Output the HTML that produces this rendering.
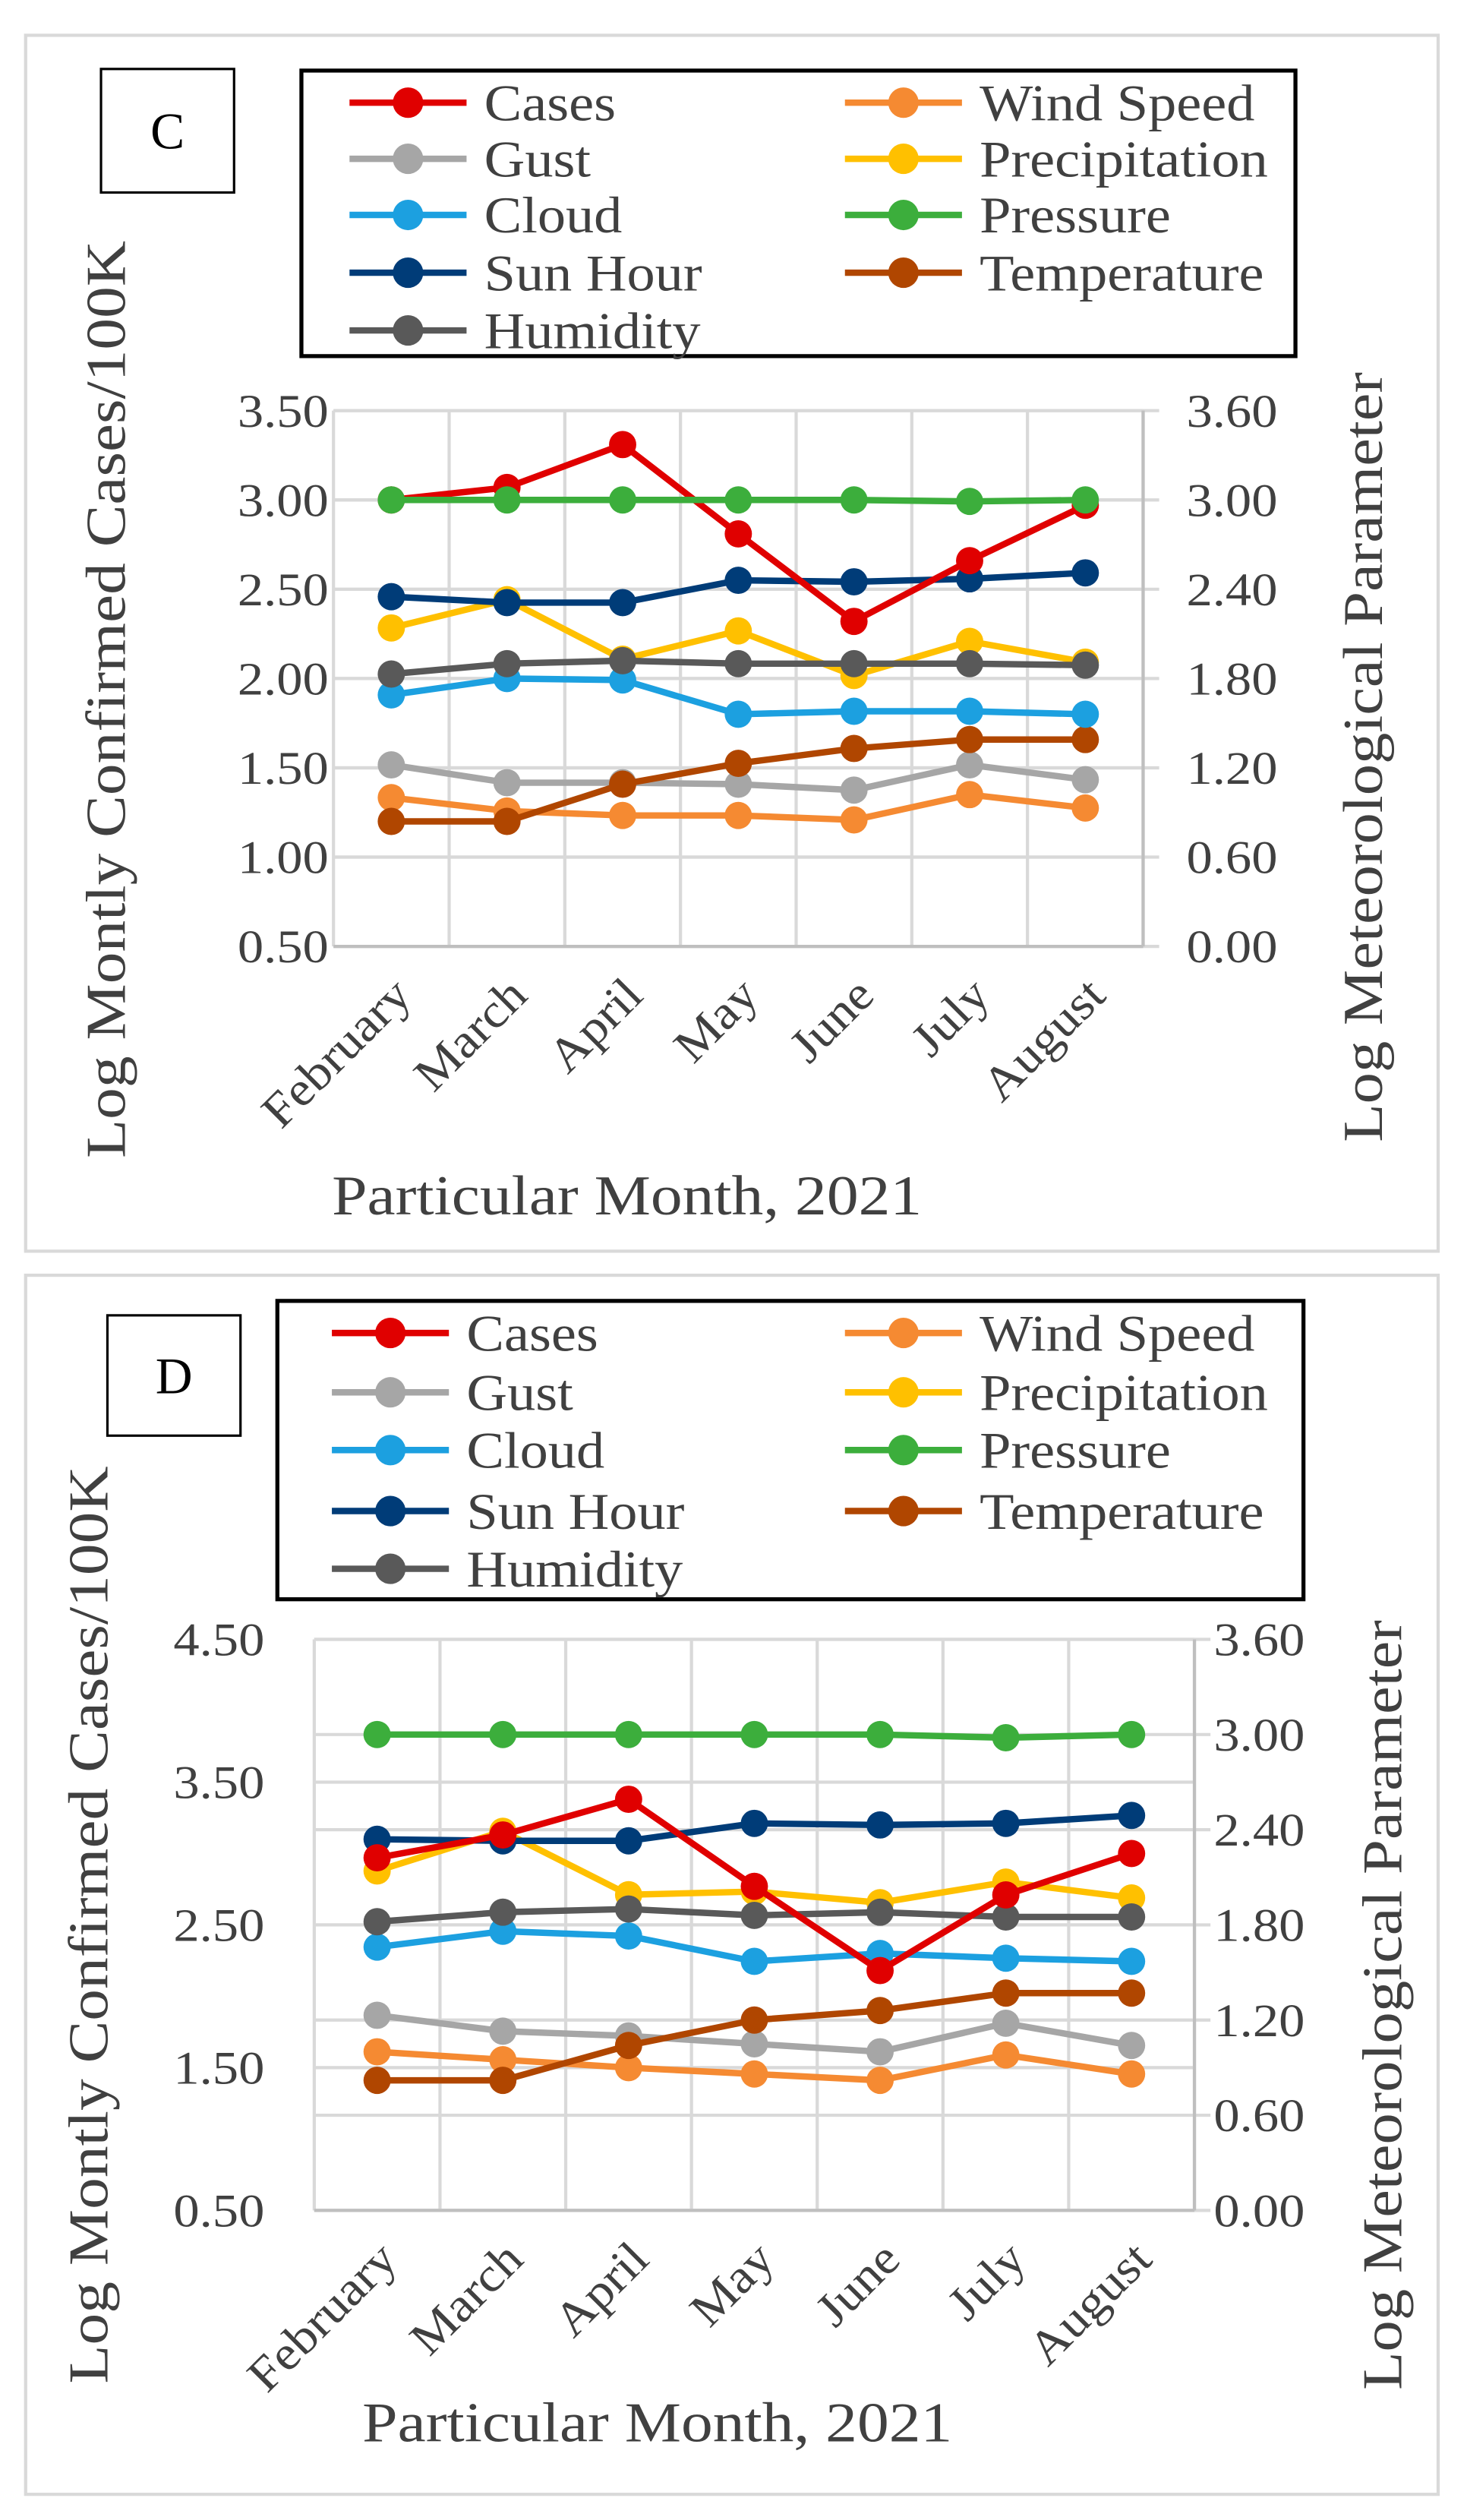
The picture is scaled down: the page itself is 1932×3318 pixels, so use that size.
<!DOCTYPE html>
<html><head><meta charset="utf-8"><style>
html,body{margin:0;padding:0;background:#fff}
svg{display:block}
text{font-family:"Liberation Serif",serif;fill:#404040}
</style></head><body>
<svg id="s" width="1932" height="3318" viewBox="0 0 915 1571" preserveAspectRatio="none" xmlns="http://www.w3.org/2000/svg"></svg>
<script>
const months = ["February","March","April","May","June","July","August"];
const seriesNames = ["Cases","Wind Speed","Gust","Precipitation","Cloud","Pressure","Sun Hour","Temperature","Humidity"];
const seriesColors = {"Cases":"#e00000","Wind Speed":"#f58a32","Gust":"#a6a6a6","Precipitation":"#ffc000","Cloud":"#1ca0e0","Pressure":"#3cae3c","Sun Hour":"#003c78","Temperature":"#b04600","Humidity":"#595959"};
// Chart C values
const cCases = [3.00,3.07,3.31,2.81,2.32,2.66,2.97];
const cWind = [1.00,0.91,0.88,0.88,0.85,1.02,0.93];
const cGust = [1.22,1.10,1.10,1.09,1.05,1.22,1.12];
const cPrecip = [2.14,2.33,1.93,2.12,1.82,2.05,1.91];
const cCloud = [1.69,1.80,1.79,1.56,1.58,1.58,1.56];
const cPressure = [3.00,3.00,3.00,3.00,3.00,2.99,3.00];
const cSun = [2.35,2.31,2.31,2.46,2.45,2.47,2.51];
const cTemp = [0.84,0.84,1.09,1.23,1.33,1.39,1.39];
const cHumid = [1.83,1.90,1.92,1.90,1.90,1.90,1.89];
// Chart D values
const dCases = [2.97,3.13,3.38,2.77,2.18,2.71,3.00];
const dWind = [1.00,0.95,0.90,0.86,0.82,0.98,0.86];
const dGust = [1.23,1.13,1.10,1.05,1.00,1.18,1.04];
const dPrecip = [2.14,2.39,1.99,2.01,1.94,2.07,1.97];
const dCloud = [1.66,1.76,1.73,1.57,1.62,1.59,1.57];
const dPressure = [3.00,3.00,3.00,3.00,3.00,2.98,3.00];
const dSun = [2.34,2.33,2.33,2.44,2.43,2.44,2.49];
const dTemp = [0.82,0.82,1.04,1.20,1.26,1.37,1.37];
const dHumid = [1.82,1.88,1.90,1.86,1.88,1.85,1.85];
const cLeftTicks = ["0.50","1.00","1.50","2.00","2.50","3.00","3.50"];
const dLeftTicks = ["0.50","1.50","2.50","3.50","4.50"];
const rightTicks = ["0.00","0.60","1.20","1.80","2.40","3.00","3.60"];

const NS="http://www.w3.org/2000/svg", svg=document.getElementById('s');
function mk(tag,attrs,parent,txt){const e=document.createElementNS(NS,tag);for(const k in attrs)e.setAttribute(k,attrs[k]);if(txt!==undefined)e.textContent=txt;(parent||svg).appendChild(e);return e;}
function stretch(e,k){const w=e.getComputedTextLength();e.setAttribute('textLength',w*k);e.setAttribute('lengthAdjust','spacingAndGlyphs');}

function chart(cfg){
  const g=mk('g',{});
  
  
  const fr=mk('rect',{x:16,y:cfg.fy,width:881,height:cfg.fh,fill:'none',stroke:'#d9d9d9','stroke-width':2},g);
  
  
  const lb=mk('rect',{x:cfg.lbx,y:cfg.lby,width:83,height:cfg.lbh,fill:'#fff',stroke:'#000','stroke-width':1.5},g);
  
  
  const lt=mk('text',{x:cfg.lbx+41.5,y:cfg.lby+cfg.lbh/2+11,'font-size':32,'text-anchor':'middle',style:'fill:#000'},g,cfg.id);
  
  
  const {x0,x1,y0,y1}=cfg;
  const lmin=cfg.lmin,lmax=cfg.lmax;
  const yL=v=>y1-(v-lmin)/(lmax-lmin)*(y1-y0);
  const yR=v=>y1-v/3.6*(y1-y0);
  const cw=(x1-x0)/months.length;
  const xC=i=>x0+cw*(i+0.5);
  const grid=mk('g',{},g);
  
  
  for(let i=0;i<=months.length;i++){mk('line',{x1:x0+cw*i,x2:x0+cw*i,y1:y0,y2:y1,stroke:'#d9d9d9','stroke-width':2},grid);}
  cfg.leftTicks.forEach(t=>{const y=yL(parseFloat(t));mk('line',{x1:x0,x2:x1,y1:y,y2:y,stroke:'#d9d9d9','stroke-width':2},grid);
    const e=mk('text',{x:x0-cfg.lgap,y:y+10,'font-size':29,'text-anchor':'end'},g,t);
    
    
    stretch(e,1.12);});
  rightTicks.forEach(t=>{const y=yR(parseFloat(t));mk('line',{x1:x0,x2:x1+10,y1:y,y2:y,stroke:'#d9d9d9','stroke-width':2},grid);
    const e=mk('text',{x:x1+cfg.rgap,y:y+10,'font-size':29,'text-anchor':'start'},g,t);
    
    
    stretch(e,1.12);});
  mk('line',{x1:x0,x2:x1,y1:y1,y2:y1,stroke:'#bfbfbf','stroke-width':2},grid);
  mk('line',{x1:x1,x2:x1,y1:y0,y2:y1,stroke:'#bfbfbf','stroke-width':2},grid);
  months.forEach((m,i)=>{const x=xC(i)+14,y=y1+32;
    const e=mk('text',{x:x,y:y,'font-size':30,'text-anchor':'end',transform:`rotate(-45 ${x} ${y})`},g,m);
    
    
    stretch(e,1.08);});
  let e=mk('text',{x:cfg.xtx,y:cfg.xty,'font-size':35,'text-anchor':'middle',textLength:368,lengthAdjust:'spacingAndGlyphs'},g,'Particular Month, 2021');
  
  
  e=mk('text',{x:cfg.ltx,y:cfg.lty,'font-size':35,'text-anchor':'middle',textLength:572,lengthAdjust:'spacingAndGlyphs',transform:`rotate(-90 ${cfg.ltx} ${cfg.lty})`},g,'Log Montly Confirmed Cases/100K');
  
  
  e=mk('text',{x:cfg.rtx,y:cfg.rty,'font-size':35,'text-anchor':'middle',textLength:480,lengthAdjust:'spacingAndGlyphs',transform:`rotate(-90 ${cfg.rtx} ${cfg.rty})`},g,'Log Meteorological Parameter');
  
  
  const order=["Gust","Wind Speed","Temperature","Cloud","Precipitation","Humidity","Sun Hour","Cases","Pressure"];
  order.forEach(n=>{
    const vals=cfg.data[n];const f=n==="Cases"?yL:yR;
    const sg=mk('g',{},g);
    
    
    mk('polyline',{points:vals.map((v,i)=>xC(i)+','+f(v)).join(' '),fill:'none',stroke:seriesColors[n],'stroke-width':4},sg);
    vals.forEach((v,i)=>{const c=mk('circle',{cx:xC(i),cy:f(v),r:8.5,fill:seriesColors[n]},sg);
      
      });
  });
  const lg=mk('g',{},g);
  
  
  mk('rect',{x:cfg.lgx,y:cfg.lgy,width:cfg.lgw,height:cfg.lgh,fill:'#fff',stroke:'#000','stroke-width':2.5},lg);
  const left=["Cases","Gust","Cloud","Sun Hour","Humidity"],right=["Wind Speed","Precipitation","Pressure","Temperature"];
  const ent=(n,lx,r)=>{const y=cfg.rows[r];const eg=mk('g',{},lg);
    
    
    mk('line',{x1:lx,x2:lx+73,y1:y,y2:y,stroke:seriesColors[n],'stroke-width':4},eg);
    mk('circle',{cx:lx+36.5,cy:y,r:9.5,fill:seriesColors[n]},eg);
    const t=mk('text',{x:lx+84,y:y+11,'font-size':32},eg,n);
    stretch(t,1.1);};
  left.forEach((n,i)=>ent(n,cfg.lcx,i));
  right.forEach((n,i)=>ent(n,cfg.rcx,i));
}
chart({id:'C',fy:22,fh:758,lbx:63,lby:43,lbh:77,x0:208,x1:713,y0:256,y1:590,lmin:0.5,lmax:3.5,leftTicks:cLeftTicks,lgap:3,rgap:27,
  data:{"Cases":cCases,"Wind Speed":cWind,"Gust":cGust,"Precipitation":cPrecip,"Cloud":cCloud,"Pressure":cPressure,"Sun Hour":cSun,"Temperature":cTemp,"Humidity":cHumid},
  xtx:391,xty:757,ltx:78,lty:436,rtx:862,rty:472,lgx:188,lgy:44,lgw:620,lgh:178,rows:[64,99,134,170,206],lcx:218,rcx:527});
chart({id:'D',fy:795,fh:760,lbx:67,lby:820,lbh:75,x0:196,x1:745,y0:1022,y1:1378,lmin:0.5,lmax:4.5,leftTicks:dLeftTicks,lgap:31,rgap:12,
  data:{"Cases":dCases,"Wind Speed":dWind,"Gust":dGust,"Precipitation":dPrecip,"Cloud":dCloud,"Pressure":dPressure,"Sun Hour":dSun,"Temperature":dTemp,"Humidity":dHumid},
  xtx:410,xty:1522,ltx:67,lty:1200,rtx:874,rty:1250,lgx:173,lgy:811,lgw:640,lgh:186,rows:[831,868,904,942,978],lcx:207,rcx:527});
</script>
</body></html>
